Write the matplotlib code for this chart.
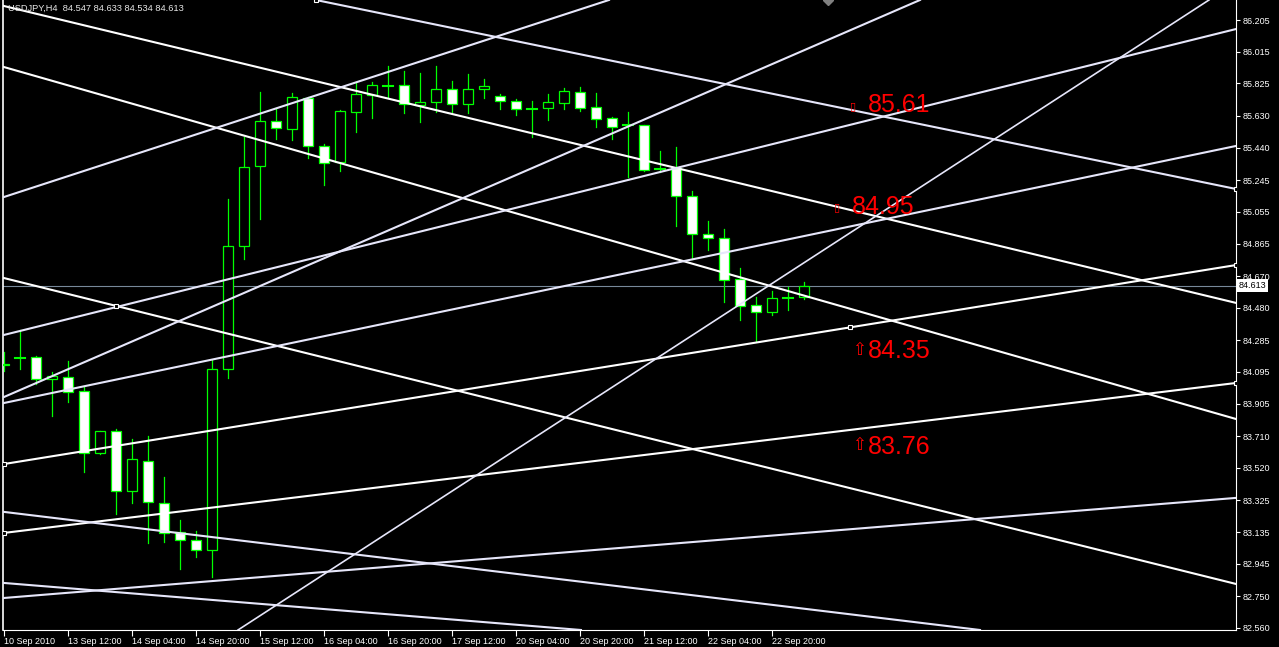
import matplotlib
matplotlib.use('Agg')
import matplotlib.pyplot as plt
import matplotlib.transforms as mtransforms
from matplotlib.patches import Rectangle

# Velas H4 de USDJPY (una vela cada 4 horas desde el 10 Sep 2010)
apertura = [84.143, 84.176, 84.185, 84.053, 84.067, 83.979, 83.608, 83.739, 83.380, 83.560,
            83.308, 83.134, 83.086, 83.026, 84.111, 84.848, 85.328, 85.598, 85.553, 85.737,
            85.448, 85.352, 85.655, 85.757, 85.812, 85.814, 85.697, 85.715, 85.790, 85.700,
            85.790, 85.748, 85.718, 85.672, 85.676, 85.706, 85.772, 85.682, 85.616, 85.573,
            85.574, 85.314, 85.320, 85.148, 84.920, 84.896, 84.651, 84.495, 84.453, 84.540,
            84.547]
maximo = [84.215, 84.347, 84.191, 84.095, 84.161, 84.003, 83.741, 83.751, 83.691, 83.709,
          83.465, 83.206, 83.140, 84.165, 85.130, 85.505, 85.772, 85.670, 85.767, 85.743,
          85.462, 85.666, 85.826, 85.833, 85.929, 85.898, 85.887, 85.929, 85.839, 85.881,
          85.851, 85.761, 85.731, 85.720, 85.761, 85.797, 85.803, 85.767, 85.622, 85.654,
          85.576, 85.420, 85.444, 85.180, 85.000, 84.952, 84.717, 84.543, 84.581, 84.606,
          84.633]
minimo = [84.101, 84.113, 84.023, 83.831, 83.917, 83.497, 83.606, 83.245, 83.308, 83.068,
          83.078, 82.916, 82.988, 82.868, 84.059, 84.770, 85.014, 85.493, 85.486, 85.380,
          85.216, 85.302, 85.536, 85.619, 85.745, 85.646, 85.591, 85.655, 85.654, 85.650,
          85.739, 85.673, 85.636, 85.502, 85.607, 85.673, 85.661, 85.565, 85.490, 85.264,
          85.300, 85.294, 84.972, 84.770, 84.826, 84.516, 84.408, 84.279, 84.438, 84.468,
          84.534]
cierre = [84.137, 84.179, 84.053, 84.071, 83.973, 83.608, 83.739, 83.380, 83.572, 83.314,
          83.130, 83.086, 83.026, 84.111, 84.848, 85.322, 85.598, 85.556, 85.742, 85.448,
          85.346, 85.658, 85.760, 85.814, 85.814, 85.700, 85.713, 85.790, 85.700, 85.790,
          85.808, 85.718, 85.670, 85.670, 85.712, 85.778, 85.676, 85.610, 85.562, 85.570,
          85.308, 85.315, 85.148, 84.920, 84.896, 84.645, 84.492, 84.453, 84.537, 84.543,
          84.613]

precio_actual = 84.613
titulo = 'USDJPY,H4  84.547 84.633 84.534 84.613'

# Eje de tiempo: una etiqueta cada 4 velas
pos_fechas = [0, 4, 8, 12, 16, 20, 24, 28, 32, 36, 40, 44, 48]
etiquetas_fechas = ['10 Sep 2010', '13 Sep 12:00', '14 Sep 04:00', '14 Sep 20:00', '15 Sep 12:00',
                    '16 Sep 04:00', '16 Sep 20:00', '17 Sep 12:00', '20 Sep 04:00', '20 Sep 20:00',
                    '21 Sep 12:00', '22 Sep 04:00', '22 Sep 20:00']

# Eje de precios
niveles = [86.205, 86.015, 85.825, 85.630, 85.440, 85.245, 85.055, 84.865, 84.670, 84.480,
           84.285, 84.095, 83.905, 83.710, 83.520, 83.325, 83.135, 82.945, 82.750, 82.560]

# Lineas de tendencia: dos puntos (vela, precio) por linea
linea_x1 = [0, 0, 0, 19.5, 0, 0, 0, 0, 0, 0, 0, 0, 14.625, 0]
linea_p1 = [86.289, 85.923, 84.658, 86.325, 84.317, 83.945, 83.909, 83.543, 83.130, 82.740,
            83.256, 82.830, 82.548, 85.144]
linea_x2 = [77, 77, 77, 77, 77, 57.25, 77, 77, 77, 77, 61, 36.06, 75.31, 37.81]
linea_p2 = [84.509, 83.813, 82.824, 85.192, 86.151, 86.325, 85.450, 84.736, 84.029, 83.340,
            82.548, 82.548, 86.325, 86.325]

# Puntos de anclaje de las lineas
ancla_x = [7, 0, 0, 52.875, 19.5, 77, 77, 77]
ancla_p = [84.491, 83.543, 83.130, 84.362, 86.325, 85.192, 84.736, 84.029]

# Niveles marcados en rojo
textos_rojos = ['85.61', '84.95', '84.35', '83.76']

plt.rcParams['font.family'] = ['Liberation Sans', 'DejaVu Sans']

verde = '#00FF00'
blanco = '#FFFFFF'
lavanda = '#E6E6FA'

fig = plt.figure(figsize=(12.79, 6.47), dpi=100, facecolor='black')
ax = fig.add_axes([3 / 1279, 17 / 647, 1233 / 1279, 630 / 647])
ax.set_facecolor('black')

# linea del precio actual
ax.axhline(precio_actual, color='#778899', lw=0.8, zorder=1)

# velas
ancho = 0.6
for i in range(len(apertura)):
    o, h, l, c = apertura[i], maximo[i], minimo[i], cierre[i]
    ax.plot([i, i], [l, h], color=verde, lw=0.9, zorder=2)
    if abs(c - o) < 0.006:
        ax.plot([i - ancho / 2, i + ancho / 2], [o, o], color=verde, lw=1.5, zorder=3)
    else:
        relleno = 'white' if c < o else 'black'
        ax.add_patch(Rectangle((i - ancho / 2, min(o, c)), ancho, abs(c - o),
                               facecolor=relleno, edgecolor=verde, lw=0.9, zorder=3))

# lineas de tendencia
colores = [blanco, blanco, blanco, lavanda, lavanda, lavanda, lavanda, blanco, blanco,
           lavanda, lavanda, lavanda, lavanda, lavanda]
for k in range(len(linea_x1)):
    grosor = 1.2 if k == 12 else 1.5
    ax.axline((linea_x1[k], linea_p1[k]), (linea_x2[k], linea_p2[k]),
              color=colores[k], lw=grosor, zorder=4)

ax.plot(ancla_x, ancla_p, 's', ms=3.5, mfc='black', mec='white', mew=0.8, zorder=5)
ax.plot([51.475], [86.325], 'D', ms=5, color='#808080', zorder=5)

# textos rojos
rojo = '#FF0000'
ax.text(52.9, 85.690, '\u25af', color=rojo, fontsize=8, ha='left', va='center',
        family=['DejaVu Sans'], zorder=6)
ax.text(54.0, 85.696, textos_rojos[0], color=rojo, fontsize=18, ha='left', va='center', zorder=6)
ax.text(51.9, 85.084, '\u25af', color=rojo, fontsize=8, ha='left', va='center',
        family=['DejaVu Sans'], zorder=6)
ax.text(53.0, 85.084, textos_rojos[1], color=rojo, fontsize=18, ha='left', va='center', zorder=6)
ax.text(53.0, 84.227, '\u21e7', color=rojo, fontsize=12, ha='left', va='center',
        family=['DejaVu Sans'], zorder=6)
ax.text(54.0, 84.221, textos_rojos[2], color=rojo, fontsize=18, ha='left', va='center', zorder=6)
ax.text(53.0, 83.657, '\u21e7', color=rojo, fontsize=12, ha='left', va='center',
        family=['DejaVu Sans'], zorder=6)
ax.text(54.0, 83.645, textos_rojos[3], color=rojo, fontsize=18, ha='left', va='center', zorder=6)

ax.set_xlim(-0.0625, 77)
ax.set_ylim(82.548, 86.325)

# ejes
ax.yaxis.tick_right()
ax.set_yticks(niveles)
ax.set_yticklabels(['%.3f' % v for v in niveles])
ax.set_xticks(pos_fechas)
ax.set_xticklabels(etiquetas_fechas, ha='left')
ax.tick_params(axis='y', colors='white', length=3, width=0.8, pad=1.5, labelsize=6.5)
ax.tick_params(axis='x', colors='white', length=4, width=0.8, pad=1, labelsize=6.5)

for lado in ['left', 'right', 'bottom']:
    ax.spines[lado].set_color('white')
    ax.spines[lado].set_linewidth(0.8)
ax.spines['left'].set_linewidth(1.2)
ax.spines['top'].set_visible(False)

trans = mtransforms.blended_transform_factory(ax.transAxes, ax.transData)
ax.text(1.0 + 3 / 1233, precio_actual, '%.3f' % precio_actual, transform=trans, color='black',
        fontsize=6.5, ha='left', va='center', clip_on=False, zorder=7,
        bbox=dict(facecolor='white', edgecolor='none', pad=1.2))

fig.text(8 / 1279, 1 - 8 / 647, titulo, color='#E8E8E8', fontsize=6.7, ha='left', va='center')

fig.savefig('out.png', dpi=100, facecolor='black')
